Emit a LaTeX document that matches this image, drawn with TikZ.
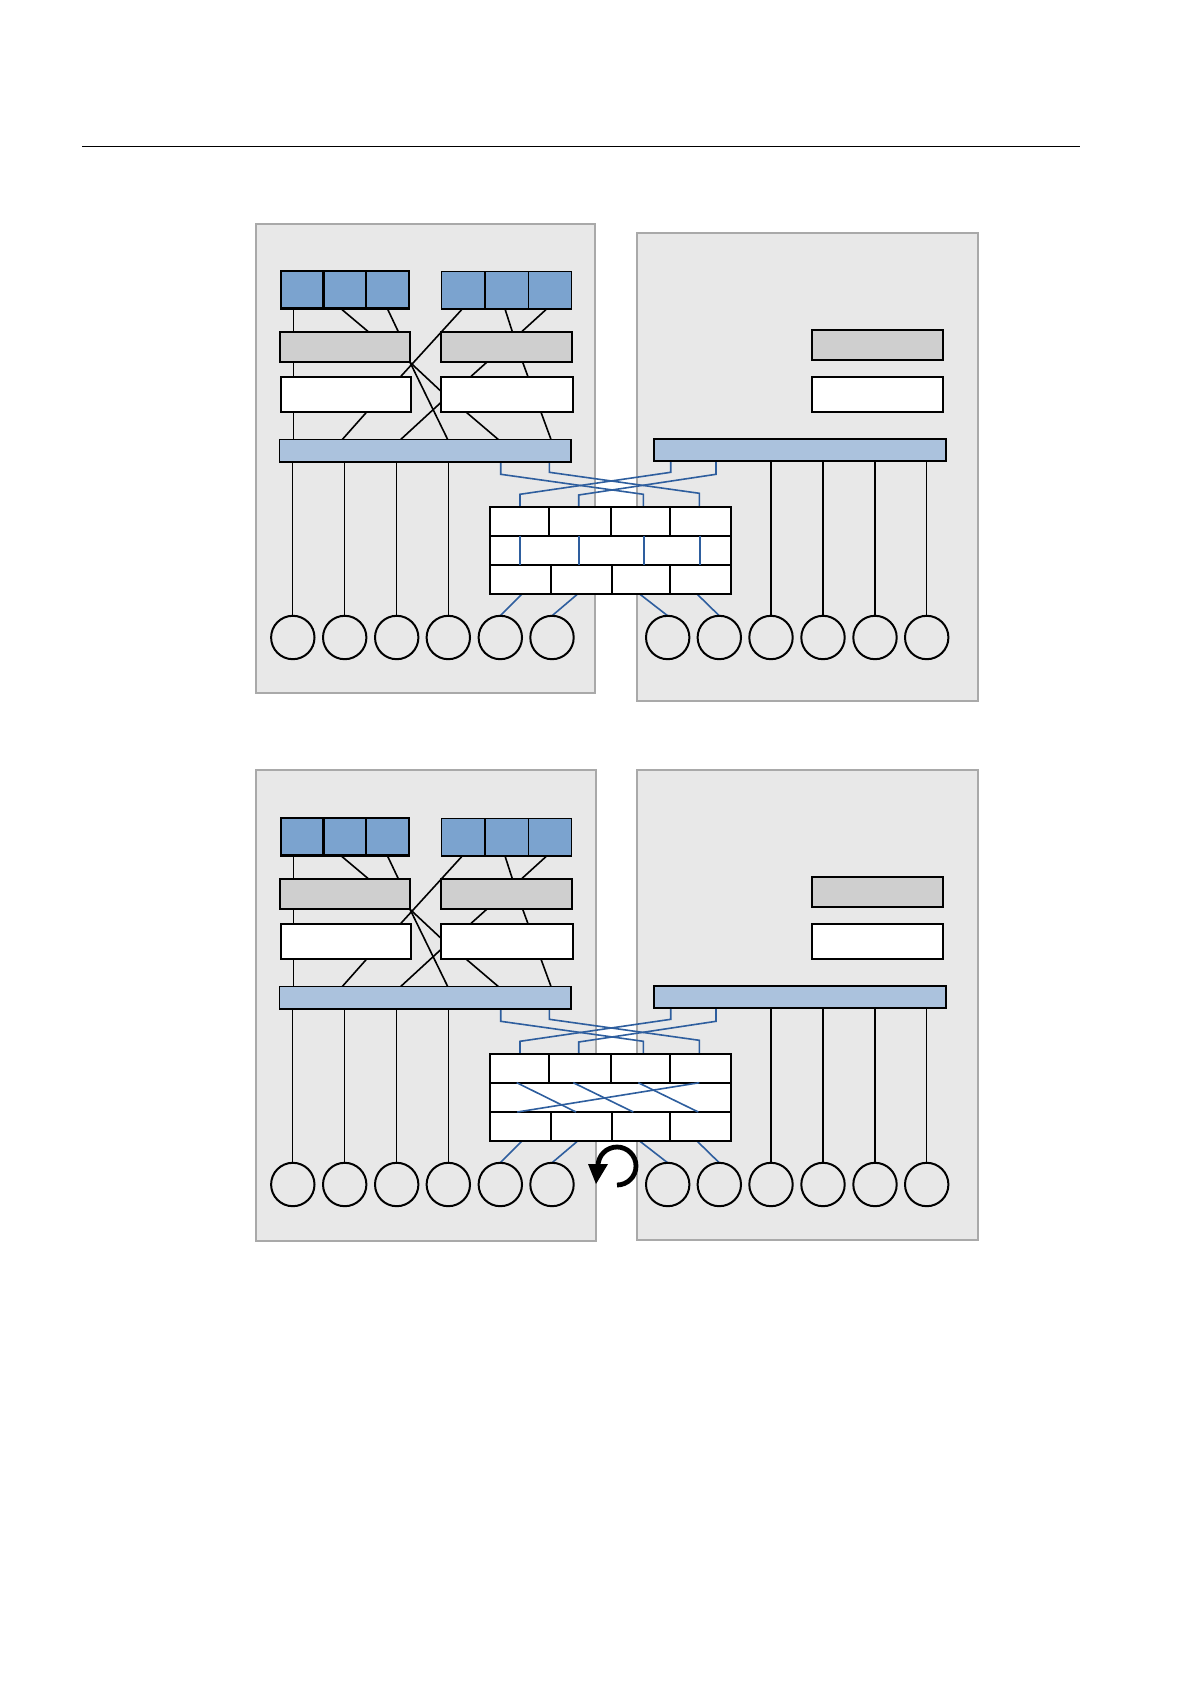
\documentclass[tikz,border=0pt]{standalone}
\definecolor{panelfill}{HTML}{E8E8E8}
\definecolor{panelline}{HTML}{A9A9A9}
\definecolor{sqblue}{HTML}{7BA3CF}
\definecolor{busblue}{HTML}{ABC2DD}
\definecolor{boxgray}{HTML}{CFCFCF}
\definecolor{wireblue}{HTML}{2E5E9E}
\pgfdeclarelayer{panels}
\pgfdeclarelayer{wires}
\pgfsetlayers{panels,wires,main}
\tikzset{
  sq/.style={draw, fill=sqblue, inner sep=0pt, outer sep=0pt, minimum width=21.4pt, minimum height=18.75pt, line width=1.1pt},
  sqthin/.style={sq, minimum width=21.67pt, line width=0.6pt},
  graybox/.style={draw, fill=boxgray, inner sep=0pt, outer sep=0pt, minimum height=15.3pt, line width=1.1pt},
  whitebox/.style={draw, fill=white, inner sep=0pt, outer sep=0pt, minimum height=17.35pt, line width=1.1pt},
  busbox/.style={draw, fill=busblue, inner sep=0pt, outer sep=0pt, minimum width=145.8pt, minimum height=11.3pt, line width=0.8pt},
  brick/.style={draw, fill=white, inner sep=0pt, outer sep=0pt, line width=0.95pt},
  port/.style={circle, draw, line width=1pt, minimum size=21.7pt, inner sep=0pt, outer sep=0pt},
  link/.style={line width=0.8pt},
  drop/.style={line width=0.6pt},
  dropthick/.style={line width=0.9pt},
  wire/.style={draw=wireblue, line width=0.8pt},
  panelbox/.style={fill=panelfill, draw=panelline, line width=1pt},
}
\newcommand\diagparts[1]{%
  % blue squares
  \node[sq] (#1bl1) at (302.1,289.75) {};
  \node[sq] (#1bl2) at (344.9,289.75) {};
  \node[sq] (#1bl3) at (387.7,289.75) {};
  \node[sqthin] (#1br1) at (463.35,290.2) {};
  \node[sqthin] (#1br2) at (506.65,290.2) {};
  \node[sqthin] (#1br3) at (550.0,290.2) {};
  % gray and white boxes
  \node[graybox, minimum width=65pt] (#1gl) at (345,347) {};
  \node[graybox, minimum width=65.65pt] (#1gr) at (506.35,347) {};
  \node[whitebox, minimum width=65pt] (#1wl) at (345.7,394.65) {};
  \node[whitebox, minimum width=66pt] (#1wr) at (506.7,394.65) {};
  \node[busbox] (#1bus) at (425.15,450.8) {};
  % right side
  \node[graybox, minimum width=65.8pt, minimum height=15.15pt] (#1grr) at (877.5,345.15) {};
  \node[whitebox, minimum width=65.8pt, minimum height=17.5pt] (#1wrr) at (877.5,394.8) {};
  \node[busbox, minimum width=145.7pt, minimum height=11pt, line width=1pt] (#1busr) at (800,450) {};
  % wall
  \node[brick, minimum width=29.65pt, minimum height=14.5pt] (#1t1) at (519.65,521.2) {};
  \node[brick, minimum width=30.7pt, minimum height=14.5pt] (#1t2) at (580,521.2) {};
  \node[brick, minimum width=29.65pt, minimum height=14.5pt] (#1t3) at (640.35,521.2) {};
  \node[brick, minimum width=30.65pt, minimum height=14.5pt] (#1t4) at (700.65,521.2) {};
  \node[brick, minimum width=120.65pt, minimum height=14.65pt] (#1m) at (610.65,550.35) {};
  \node[brick, minimum width=30.35pt, minimum height=14.65pt] (#1u1) at (520.35,579.65) {};
  \node[brick, minimum width=30.5pt, minimum height=14.65pt] (#1u2) at (581.2,579.65) {};
  \node[brick, minimum width=29.15pt, minimum height=14.65pt] (#1u3) at (640.85,579.65) {};
  \node[brick, minimum width=30.65pt, minimum height=14.65pt] (#1u4) at (700.65,579.65) {};
  % ports
  \node[port] (#1c1) at (292.8,637.5) {};
  \node[port] (#1c2) at (344.7,637.5) {};
  \node[port] (#1c3) at (396.7,637.5) {};
  \node[port] (#1c4) at (448.3,637.5) {};
  \node[port] (#1c5) at (500.3,637.5) {};
  \node[port] (#1c6) at (552.0,637.5) {};
  \node[port] (#1c7) at (667.7,637.5) {};
  \node[port] (#1c8) at (719.3,637.5) {};
  \node[port] (#1c9) at (771.0,637.5) {};
  \node[port] (#1c10) at (823.0,637.5) {};
  \node[port] (#1c11) at (875.0,637.5) {};
  \node[port] (#1c12) at (926.7,637.5) {};
  \begin{pgfonlayer}{wires}
    \draw[link] (#1bl1.south -| 293.3,0) -- (#1bus.north -| 293.3,0);
    \draw[link] (#1bl2.south -| 340.7,0) -- (#1gl.north -| 368.3,0);
    \draw[link] (#1bl3.south -| 387.3,0) -- (#1gl.north -| 398.3,0);
    \draw[link] (#1br1.south -| 462.3,0) -- (#1wl.north -| 400,0);
    \draw[link] (#1br2.south -| 505,0) -- (#1gr.north -| 512.3,0);
    \draw[link] (#1br3.south -| 546.7,0) -- (#1gr.north -| 521.7,0);
    \draw[link] (#1gl.south east) -- (#1wr.west |- 0,391);
    \draw[link] (#1gl.south east) -- (#1bus.north -| 447.7,0);
    \draw[link] (#1gr.south -| 486.7,0) -- (#1wr.north -| 470,0);
    \draw[link] (#1gr.south -| 522.7,0) -- (#1bus.north -| 551,0);
    \draw[link] (#1wl.south -| 366.7,0) -- (#1bus.north -| 342.3,0);
    \draw[link] (#1wr.west |- 0,402.7) -- (#1bus.north -| 400.7,0);
    \draw[link] (#1wr.south -| 466,0) -- (#1bus.north -| 498.3,0);
    % drops to ports
    \foreach \c in {1,2,3,4} \draw[drop] (#1bus.south -| #1c\c.north) -- (#1c\c.north);
    \draw[drop] (#1busr.south -| #1c9.north) -- (#1c9.north);
    \draw[dropthick] (#1busr.south -| #1c10.north) -- (#1c10.north);
    \draw[dropthick] (#1busr.south -| #1c11.north) -- (#1c11.north);
    \draw[drop] (#1busr.south -| #1c12.north) -- (#1c12.north);
    % blue wires
    \draw[wire] (#1bus.south -| 500.7,0) -- (500.7,474.3) -- (643.3,494.3) -- (#1t3.north -| 643.3,0);
    \draw[wire] (#1bus.south -| 549.3,0) -- (549.3,472.3) -- (699.3,493.3) -- (#1t4.north -| 699.3,0);
    \draw[wire] (#1busr.south -| 670.7,0) -- (670.7,472.3) -- (520,494.3) -- (#1t1.north -| 520,0);
    \draw[wire] (#1busr.south -| 716,0) -- (716,474.3) -- (578.7,495) -- (#1t2.north -| 578.7,0);
    \draw[wire] (#1u1.south -| 521.7,0) -- (#1c5.north);
    \draw[wire] (#1u2.south -| 577.3,0) -- (#1c6.north);
    \draw[wire] (#1u3.south -| 640,0) -- (#1c7.north);
    \draw[wire] (#1u4.south -| 697.3,0) -- (#1c8.north);
  \end{pgfonlayer}
}
\begin{document}
\begin{tikzpicture}[x=0.5pt, y=-0.5pt]
  \useasboundingbox (0,0) rectangle (1190,1684);
  \begin{pgfonlayer}{panels}
    \fill[white] (0,0) rectangle (1190,1684);
    \draw[panelbox] (256,224) rectangle (595,693.3);
    \draw[panelbox] (636.5,233) rectangle (977.5,701.3);
    \draw[panelbox] (256,770) rectangle (595.5,1241);
    \draw[panelbox] (636.5,770) rectangle (977.5,1240);
  \end{pgfonlayer}
  \draw[line width=0.8pt] (82,146.7) -- (1080,146.7);
  % upper diagram: straight-through wiring
  \begin{scope}
    \diagparts{a}
    \foreach \xx in {520,578.7,644,700}
      \draw[wire] (am.north -| \xx,0) -- (am.south -| \xx,0);
  \end{scope}
  % lower diagram: rotated wiring
  \begin{scope}[yshift=-273.5pt]
    \diagparts{b}
    \draw[wire] (bm.north -| 516.7,0) -- (bm.south -| 576,0);
    \draw[wire] (bm.north -| 573.3,0) -- (bm.south -| 633.3,0);
    \draw[wire] (bm.north -| 638.3,0) -- (bm.south -| 698.3,0);
    \draw[wire] (bm.south -| 517.3,0) -- (bm.north -| 699.3,0);
    \coordinate (rotc) at (617,619);
    \draw[line width=2.4pt] (rotc) ++(0,19) arc[start angle=90, end angle=-180, radius=19];
    \fill (588,617) -- (608,617) -- (596,637) -- cycle;
  \end{scope}
\end{tikzpicture}
\end{document}
